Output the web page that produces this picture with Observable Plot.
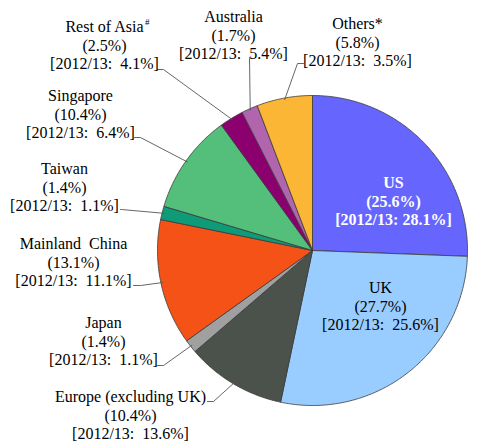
<!DOCTYPE html>
<html>
<head>
<meta charset="utf-8">
<script src="https://cdn.jsdelivr.net/npm/d3@7"></script>
<script src="https://cdn.jsdelivr.net/npm/@observablehq/plot@0.6"></script>
<style>
  html, body { margin: 0; padding: 0; background: #fff; }
  svg text { white-space: pre; font-family: "Liberation Serif", "Times New Roman", serif; }
</style>
</head>
<body>
<div id="chart"></div>
<script>
// ---- data ----
const categories = ["US", "UK", "Europe (excluding UK)", "Japan", "Mainland  China", "Taiwan", "Singapore", "Rest of Asia", "Australia", "Others*"];
const share2013 = [25.6, 27.7, 10.4, 1.4, 13.1, 1.4, 10.4, 2.5, 1.7, 5.8];
const share2012 = [28.1, 25.6, 13.6, 1.1, 11.1, 1.1, 6.4, 4.1, 5.4, 3.5];
const colors = ["#6666FF", "#99CCFF", "#4B524C", "#A0A0A0", "#F55218", "#0F9A78", "#53BF7B", "#8B006E", "#B065AE", "#FBB635"];

// ---- layout (not data) ----
const W = 480, H = 447;
const cx = 312, cy = 250, R = 155;
const fontSize = 16, lineStep = 18.5;
const serif = "Liberation Serif";
// label block centre [x, y], leader start [x, y], elbow [x, y]
const labelLayout = {
  "US": {pos: [393, 201], inside: true, bold: true, color: "#fff"},
  "UK": {pos: [380, 306], inside: true},
  "Europe (excluding UK)": {pos: [130, 415], start: [207, 401], elbow: [213, 401]},
  "Japan": {pos: [103, 341], start: [157, 365], elbow: [163, 365]},
  "Mainland  China": {pos: [73, 262], start: [133, 285], elbow: [140, 285]},
  "Taiwan": {pos: [64, 187], start: [120, 209], elbow: [121, 209]},
  "Singapore": {pos: [80, 114], start: [134, 137], elbow: [140, 137]},
  "Rest of Asia": {pos: [104, 45], start: [157, 69], elbow: [163, 69]},
  "Australia": {pos: [233, 35], start: [249, 57], elbow: [249, 58]},
  "Others*": {pos: [357, 42], start: [303, 63], elbow: [297, 63]}
};

const rows = categories.map((c, i) => ({cat: c, v: share2013[i], p: share2012[i], color: colors[i], i}));
const arcs = d3.pie().sort(null).value(d => d.v)(rows);

// slice polygons (angles clockwise from 12 o'clock)
const slicePts = [];
arcs.forEach(a => {
  const n = Math.max(2, Math.ceil((a.endAngle - a.startAngle) / 0.01));
  slicePts.push({cat: a.data.cat, x: cx, y: cy});
  for (let k = 0; k <= n; k++) {
    const t = a.startAngle + (a.endAngle - a.startAngle) * k / n;
    slicePts.push({cat: a.data.cat, x: cx + R * Math.sin(t), y: cy - R * Math.cos(t)});
  }
  slicePts.push({cat: a.data.cat, x: cx, y: cy});
});

// leader lines ending on the slice edge at mid-angle
const leaderPts = [];
arcs.forEach(a => {
  const L = labelLayout[a.data.cat];
  if (L.inside) return;
  const m = (a.startAngle + a.endAngle) / 2;
  leaderPts.push({cat: a.data.cat, x: L.start[0], y: L.start[1]});
  leaderPts.push({cat: a.data.cat, x: L.elbow[0], y: L.elbow[1]});
  leaderPts.push({cat: a.data.cat, x: cx + R * 0.99 * Math.sin(m), y: cy - R * 0.99 * Math.cos(m)});
});

// label lines
const lines = [];
rows.forEach(d => {
  const L = labelLayout[d.cat];
  const gap = (d.cat === "US") ? " " : "  ";
  const txt = [d.cat, `(${d.v.toFixed(1)}%)`, `[2012/13:${gap}${d.p.toFixed(1)}%]`];
  txt.forEach((t, k) => lines.push({
    text: t, x: L.pos[0], y: L.pos[1] + (k - 1) * lineStep,
    bold: !!L.bold, color: L.color || "#000"
  }));
});

const plot = Plot.plot({
  width: W, height: H,
  margin: 0,
  x: {type: "identity", axis: null},
  y: {type: "identity", axis: null},
  color: {domain: categories, range: colors},
  style: {background: "#fff"},
  marks: [
    Plot.line(slicePts, {x: "x", y: "y", z: "cat", fill: "cat", stroke: "#3a3a3a", strokeWidth: 0.8}),
    Plot.line(leaderPts, {x: "x", y: "y", z: "cat", stroke: "#555", strokeWidth: 0.9}),
    Plot.text(lines.filter(d => !d.bold), {x: "x", y: "y", text: "text", fill: "color", fontSize, fontFamily: serif, textAnchor: "middle"}),
    Plot.text(lines.filter(d => d.bold), {x: "x", y: "y", text: "text", fill: "color", fontSize, fontFamily: serif, fontWeight: "bold", textAnchor: "middle"}),
    Plot.text(["#"], {x: () => 144.5, y: () => 22, text: d => d, fontSize: 9, fontFamily: serif, textAnchor: "start"})
  ]
});
document.getElementById("chart").appendChild(plot);
</script>
</body>
</html>
